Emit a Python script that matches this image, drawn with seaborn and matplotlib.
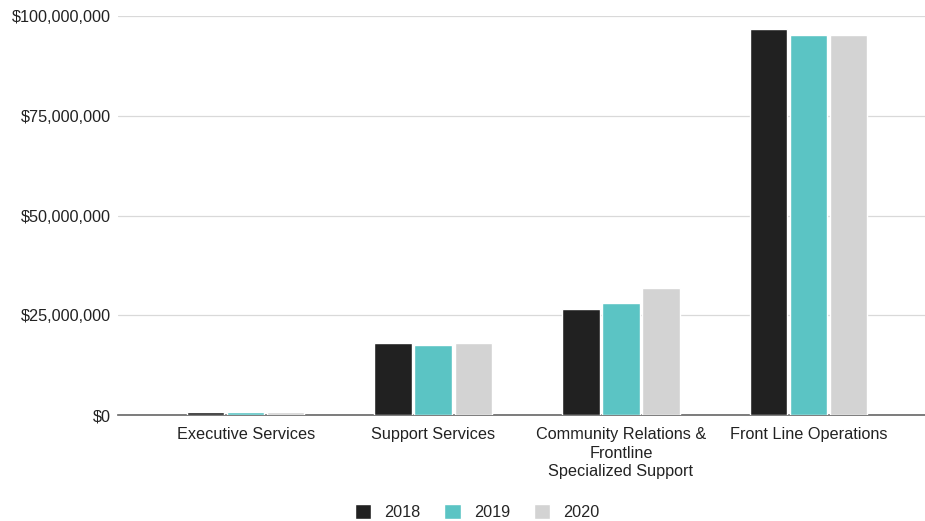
import numpy as np
import pandas as pd
from matplotlib import pyplot as plt
import matplotlib.ticker as mticker
import seaborn as sns

categories = ['Executive Services', 'Support Services',
              'Community Relations &\nFrontline\nSpecialized Support',
              'Front Line Operations']
years = ['2018', '2019', '2020']
values_2018 = [800000, 18000000, 26600000, 96700000]
values_2019 = [780000, 17600000, 28000000, 95200000]
values_2020 = [720000, 18000000, 32000000, 95200000]

df = pd.DataFrame({
    'category': categories * 3,
    'year': [y for y in years for _ in categories],
    'value': values_2018 + values_2019 + values_2020,
})

sns.set_style('white')
plt.rcParams['font.family'] = ['Liberation Sans', 'DejaVu Sans']

palette = ['#212121', '#5bc4c4', '#d3d3d3']

fig, ax = plt.subplots(figsize=(9.25, 5.21), dpi=100)
fig.subplots_adjust(left=0.1276, right=1.0, top=0.969, bottom=0.203)

sns.barplot(data=df, x='category', y='value', hue='year', palette=palette,
            width=0.64, gap=0.06, saturation=1, ax=ax, zorder=3)

ax.set_xlim(-0.68, 3.62)
ax.set_ylim(0, 100000000)
ax.set_yticks([0, 25000000, 50000000, 75000000, 100000000])
ax.yaxis.set_major_formatter(mticker.FuncFormatter(lambda v, p: '${:,.0f}'.format(v)))
ax.grid(axis='y', color='#d9d9d9', lw=0.9, zorder=0)
ax.set_xlabel('')
ax.set_ylabel('')
ax.tick_params(axis='both', length=0, labelsize=11.7, colors='#222222')
ax.tick_params(axis='y', pad=5)
ax.tick_params(axis='x', pad=8.5)
for lbl in ax.get_xticklabels():
    lbl.set_linespacing(1.3)
for s in ['top', 'right', 'left']:
    ax.spines[s].set_visible(False)
ax.spines['bottom'].set_color('#666666')
ax.spines['bottom'].set_linewidth(1.2)

ax.legend(loc='center', bbox_to_anchor=(0.445, -0.243), ncol=3, frameon=False,
          fontsize=11.7, handlelength=1.0, handleheight=1.0, columnspacing=1.5,
          handletextpad=0.8)

plt.savefig('out.png')
